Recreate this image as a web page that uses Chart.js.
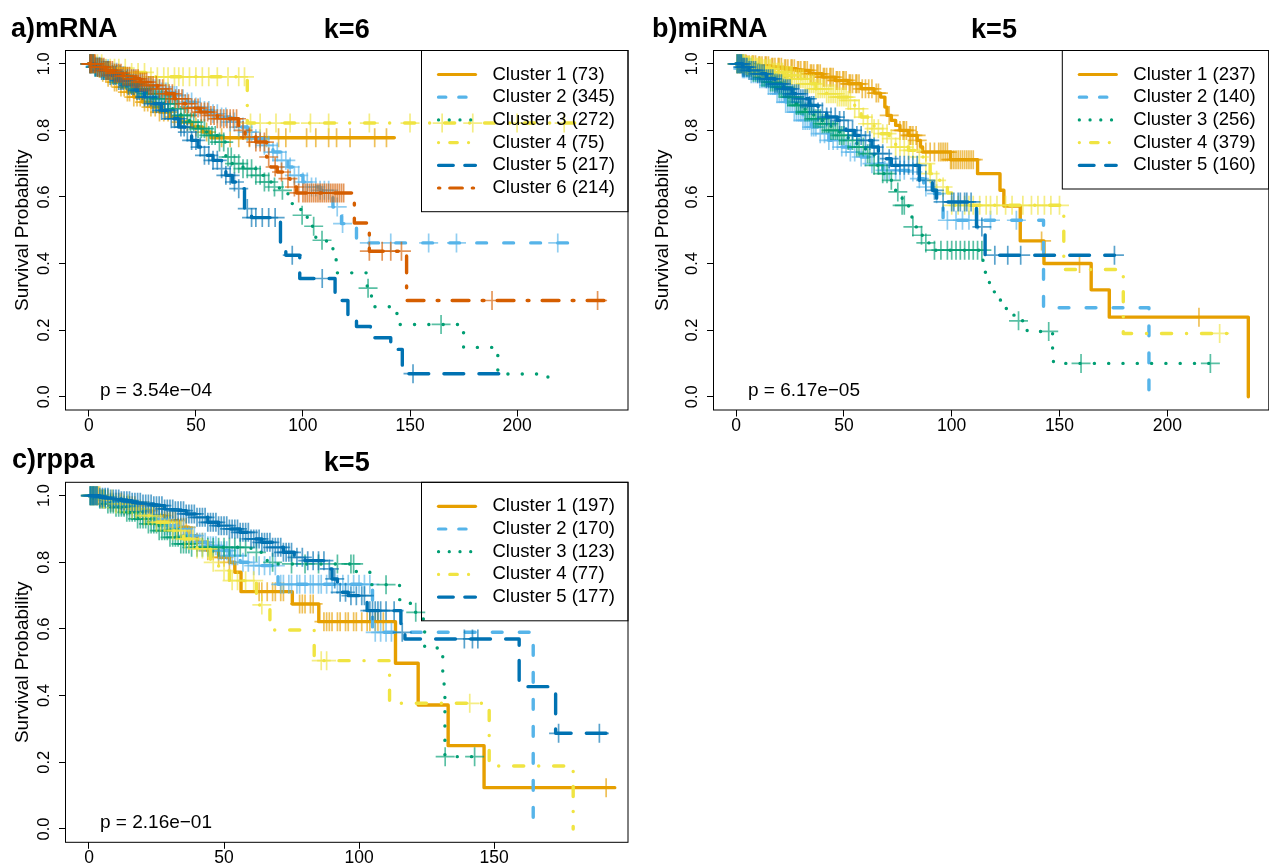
<!DOCTYPE html>
<html>
<head>
<meta charset="utf-8">
<script src="https://cdn.jsdelivr.net/npm/chart.js@4.4.1/dist/chart.umd.min.js"></script>
<style>
  body { margin: 0; background: #fff; overflow: hidden; width: 1269px; height: 863px; position: relative;
         font-family: "Liberation Sans", Arial, sans-serif; }
  canvas { position: absolute; }
  .title { position: absolute; font-weight: bold; font-size: 27px; line-height: 27px; white-space: nowrap; color: #000; }
  .centered { text-align: center; }
</style>
</head>
<body>
<canvas id="mrna" width="640" height="440" style="left:0;top:0"></canvas>
<canvas id="mirna" width="640" height="440" style="left:640px;top:0"></canvas>
<canvas id="rppa" width="640" height="433" style="left:0;top:430px"></canvas>

<div class="title" style="left:11px;top:14.5px">a)mRNA</div>
<div class="title centered" style="left:65.5px;width:562.5px;top:16px">k=6</div>
<div class="title" style="left:652px;top:14.5px">b)miRNA</div>
<div class="title centered" style="left:713.5px;width:561px;top:16px">k=5</div>
<div class="title" style="left:12px;top:446px">c)rppa</div>
<div class="title centered" style="left:65.5px;width:562.5px;top:448.5px">k=5</div>

<script>
"use strict";

// ---- a) mRNA, k=6 : [time, survival] after each drop; last pair = end of follow-up
const mrna1 = [[0,1],[3,0.99],[6,0.975],[9,0.96],[12,0.945],[15,0.93],[18,0.915],[21,0.9],[25,0.885],[29,0.87],[33,0.855],[38,0.84],[43,0.825],[48,0.81],[53,0.795],[57,0.778],[142.6,0.778]];
const mrna2 = [[0,1],[3,0.993],[6,0.985],[10,0.975],[14,0.965],[18,0.955],[22,0.945],[26,0.935],[30,0.925],[34,0.915],[38,0.905],[42,0.895],[46,0.885],[50,0.87],[54,0.86],[58,0.85],[62,0.84],[66,0.825],[70,0.81],[74,0.795],[78,0.775],[82,0.755],[86,0.735],[90,0.71],[93,0.69],[96,0.665],[100,0.645],[104,0.63],[108,0.62],[114,0.57],[118,0.52],[125,0.462],[224,0.462]];
const mrna3 = [[0,1],[3,0.99],[7,0.98],[11,0.968],[15,0.955],[19,0.94],[23,0.925],[27,0.91],[31,0.895],[35,0.88],[39,0.865],[43,0.845],[47,0.825],[51,0.805],[55,0.785],[60,0.765],[64,0.72],[67,0.7],[72,0.685],[78,0.665],[82,0.645],[86,0.63],[89,0.62],[93,0.58],[99,0.545],[102,0.512],[106,0.47],[111,0.445],[114,0.418],[115.5,0.372],[130,0.326],[132,0.27],[142,0.25],[144,0.217],[175,0.148],[191,0.068],[214.4,0.024]];
const mrna4 = [[0,1],[8,0.987],[18,0.974],[28,0.961],[74,0.822],[227,0.822]];
const mrna5 = [[0,1],[3,0.99],[6,0.98],[10,0.965],[14,0.95],[18,0.935],[22,0.92],[26,0.9],[30,0.88],[34,0.86],[38,0.835],[42,0.81],[45,0.795],[48,0.77],[51,0.75],[54,0.725],[58,0.71],[62,0.685],[64,0.665],[67,0.645],[70,0.625],[72.7,0.565],[76,0.538],[89.5,0.45],[92,0.425],[98.5,0.355],[115,0.289],[121,0.245],[125,0.211],[131.5,0.177],[141,0.142],[146.4,0.069],[191.7,0.035]];
const mrna6 = [[0,1],[4,0.99],[8,0.98],[12,0.972],[16,0.963],[20,0.955],[24,0.945],[28,0.935],[32,0.925],[36,0.91],[40,0.895],[44,0.88],[48,0.867],[52,0.855],[56,0.845],[60,0.835],[70,0.8],[73,0.78],[78,0.765],[83,0.72],[85,0.69],[88,0.675],[91,0.655],[94,0.63],[97,0.612],[124,0.522],[131,0.437],[148.4,0.289],[241.5,0.289]];
// censoring times (+ marks)
const mrna1Cens = [0.5,1.5,2.5,4,5,6.5,8,9,10.5,12,13,15,16.5,18,19,21,22.5,24,26,27.5,29,31,33,35,37,40,43,46,50,55,62,66,70,75,83,88.6,92,101.7,106,112,115.7,122,133.5,139];
const mrna2Cens = [0.5,1,1.5,2,3,3.5,4,5,6,6.5,7,8,9,10,11,12,13,14,15,16,17,18,19,20,21,22,23,24,25,26,27,28,29,30,31,32,33,34,35,36,37,38,39,40,41,42,44,46,48,50,52,54,56,58,60,62,64,66,68,70,72,74,76,78,80,82,84,86,88,90,92,94,96,98,100,102,104,106,108,110,112,116,118.5,131,141,158.7,171.7,219];
const mrna3Cens = [0.5,1,2,3,4,5,6,7,8.5,9.5,11,12,13,14.5,15.5,17,18,19.5,20.5,22,23,24.5,26,27,28.5,30,31,32.5,34,35.5,37,38,40,41.5,43,44.5,46,47.5,49,51,52.5,54,56,57.5,59,61,63,65,66.5,68,70,72,74,76,78,80,82,84,86.7,90.4,99.6,105,108.9,130.4,164.5];
const mrna4Cens = [1,2.5,4,6,8,10,12,14,17,20,23,26,29,32,35,37,40,42,44,47,50,53,56,60,65,70,72.7,75.5,80,87.4,94,103.5,112,131,150,165,179.3,200,222];
const mrna5Cens = [0.5,1,2,3,4,5,6,7,8,9,10,11.5,12.5,14,15,16,17.5,18.5,20,21,22.5,23.5,25,26,27.5,29,30,31.5,33,34,35.5,37,38.5,40,41.5,43,44.5,46,48,50,52,54,56,58,60,62,64,66,68,70,74,76,78,81,84,87,95,109,151.4];
const mrna6Cens = [0.5,1,1.5,2.5,3,4,5,6,7,8,9,10,11,12,13,14,15,16,17,18,19,20,21,22,23,24,25,26,27,28,29,30,31.5,33,34.5,36,37.5,39,40.5,42,43.5,45,46.5,48,49.5,51,52.5,54,55.5,57,58.5,60,61.5,63,64.5,66,67.5,69,72,75,78,80,82,84,87,90,93,96,98,100,101,102,103,104,105,106,107,108,109,110,111,112,113,114,115,116,117,118,119,131,137,141,146,188.3,237.6];
const mrnaLabels = ["Cluster 1 (73)", "Cluster 2 (345)", "Cluster 3 (272)", "Cluster 4 (75)", "Cluster 5 (217)", "Cluster 6 (214)"];
const mrnaP = "p = 3.54e\u221204";

// ---- b) miRNA, k=5
const mirna1 = [[0,1],[5,0.997],[10,0.994],[16,0.99],[22,0.985],[28,0.98],[34,0.97],[40,0.96],[46,0.95],[52,0.94],[58,0.925],[64,0.912],[67,0.9],[69,0.87],[70,0.845],[72,0.83],[74,0.815],[76,0.8],[80,0.785],[84,0.77],[85.5,0.75],[86.5,0.735],[99.4,0.712],[112,0.67],[122.4,0.62],[124.2,0.573],[131.8,0.468],[142.8,0.4],[164.7,0.321],[173.1,0.239],[237.6,0]];
const mirna2 = [[0,1],[3,0.985],[7,0.97],[11,0.955],[15,0.935],[19,0.91],[23,0.885],[27,0.855],[31,0.83],[35,0.81],[39,0.79],[43,0.77],[48,0.75],[53,0.735],[58,0.72],[63,0.7],[68,0.68],[80,0.675],[84,0.655],[87,0.63],[92,0.61],[96,0.53],[142.6,0.267],[191.5,0]];
const mirna3 = [[0,1],[4,0.99],[8,0.975],[12,0.96],[16,0.945],[20,0.93],[24,0.9],[28,0.875],[32,0.855],[36,0.835],[40,0.82],[44,0.8],[48,0.785],[52,0.77],[56,0.75],[60,0.73],[64,0.695],[68,0.67],[72,0.65],[74,0.615],[77,0.575],[80,0.54],[82,0.51],[84,0.485],[87,0.462],[92,0.44],[114.5,0.4],[115.5,0.374],[116.2,0.345],[117.5,0.315],[120,0.3],[122.6,0.285],[124.5,0.265],[127,0.245],[130,0.228],[133,0.21],[135,0.196],[146.8,0.145],[147.2,0.1],[223.4,0.1]];
const mirna4 = [[0,1],[4,0.995],[8,0.99],[12,0.985],[17,0.975],[22,0.965],[27,0.955],[32,0.94],[37,0.925],[42,0.91],[47,0.9],[52,0.89],[55,0.865],[58,0.84],[61,0.82],[64,0.805],[67,0.79],[71,0.775],[74,0.75],[80,0.74],[84.6,0.72],[87,0.7],[90,0.67],[93,0.65],[95.7,0.63],[98,0.612],[100,0.575],[152,0.382],[179.6,0.19],[228,0.19]];
const mirna5 = [[0,1],[3,0.99],[6,0.98],[10,0.97],[14,0.955],[18,0.94],[22,0.925],[26,0.91],[30,0.895],[34,0.875],[38,0.855],[42,0.84],[47,0.83],[51,0.8],[55,0.785],[60,0.77],[63,0.75],[66,0.73],[69,0.715],[72,0.695],[85,0.65],[91,0.62],[93,0.585],[111.5,0.51],[115.5,0.425],[175.5,0.425]];
const mirna1Cens = [0.5,1.5,2,3,4.5,5,6,7.5,8,9,10.5,11,12,13.5,14,15,16.5,17,18,19.5,20,21,22.5,23,24,25.5,26,27,28.5,29,30,31.5,32,33,34.5,35,36,37.5,38,39,40.5,41,42,43.5,44,45,46.5,47,48,49.5,50,51,52.5,53,54,55.5,56,57,58.5,60,61.5,63,65,66,71,76,77.5,78,79,80.5,81,82,83.5,84,88,90,92,94,95,96,97,98,99.5,100,101,102,103,104,105,106,107,108,109,110,141.7,159.3,214.7];
const mirna2Cens = [0.5,1,2,3,3.5,4,5,6,7,8,9,10,11,12,13,14,15,16,17,18,19,20,21,22,23,24,25,26,27,28,29,30,31,32,33,34,35,36,37,39,41,43,45,47,49,51,53,55,58,60,63,66,69,71,74,76,78,82,85,88,93,98,102,105,108,112,118,130];
const mirna3Cens = [0.5,1.5,2.5,3.5,5,6,7,8,9,10,11,12,13,14,15,16,17,18,19,20,21,22,23,24,25,26,27,28,29,30,31,32,33,34,35,36,37,38,39,40,41,42,43,44,45,46,47,48,49,50,52,54,56,57,59,61,62,64,66,68,70,72,75,77,78,82,86,88,92,95,98,100,102,104,106,108,110,112,114,131,145,160,220];
const mirna4Cens = [0.5,1,1.5,2,3,3.5,4,5,5.5,6,7,7.5,8,9,9.5,10,11,11.5,12,13,13.5,14,15,15.5,16,17,17.5,18,19,19.5,20,21,21.5,22,23,23.5,24,25,25.5,26,27,28,29,30,31,32,33,34,35,36,37,38,39,40,41,42,43,44,45,46,47,48,49,50,51,52,53,55,57,59,61,63,64,66,68,70,72,74,76,78,80,82,85,88,90,93,96,100,103,106,108,110,113,116,118,121,125,128,133,137,140,143,146,150,224.3];
const mirna5Cens = [0.5,1,1.5,2,2.5,3,3.5,4,5,6,7,8,9,10,11,12,13,14,15,16,17,18,19,20,21,22,23,24,25,26,27,28,29,30,31,32,33,34,35,36,38,40,42,44,46,48,50,52,54,56,58,60,62,64,66,68,71,74,76,78,80,82,84,88,92,96,100,101,103,104,106,107,109,114,120,126,132,175.5];
const mirnaLabels = ["Cluster 1 (237)", "Cluster 2 (140)", "Cluster 3 (256)", "Cluster 4 (379)", "Cluster 5 (160)"];
const mirnaP = "p = 6.17e\u221205";

// ---- c) rppa, k=5
const rppa1 = [[0,1],[4,0.99],[8,0.98],[13,0.97],[18,0.955],[23,0.94],[28,0.925],[33,0.905],[37,0.88],[40,0.86],[44,0.835],[48,0.815],[52,0.8],[54,0.77],[56.3,0.712],[75.3,0.675],[85.1,0.622],[113.5,0.497],[121.9,0.372],[133,0.25],[146.3,0.124],[194.7,0.124]];
const rppa2 = [[0,1],[4,0.99],[8,0.98],[12,0.97],[16,0.955],[20,0.94],[24,0.93],[28,0.91],[32,0.9],[36,0.88],[40,0.86],[44,0.85],[48,0.835],[52,0.82],[56,0.8],[60,0.79],[70,0.734],[105,0.59],[164.5,0]];
const rppa3 = [[0,1],[4,0.99],[7,0.975],[10,0.965],[14,0.95],[18,0.93],[22,0.915],[26,0.895],[30,0.875],[34,0.855],[38,0.845],[60,0.83],[66,0.8],[70,0.795],[99,0.77],[104,0.733],[115,0.688],[119,0.65],[123,0.63],[124.3,0.543],[131,0.468],[131.5,0.432],[131.8,0.217],[144.6,0.217]];
const rppa4 = [[0,1],[5,0.99],[10,0.975],[15,0.96],[20,0.94],[25,0.92],[30,0.895],[35,0.87],[40,0.84],[45,0.8],[48,0.775],[52,0.745],[62,0.672],[67,0.597],[83.4,0.505],[111.3,0.377],[148.2,0.189],[179.3,0]];
const rppa5 = [[0,1],[4,0.995],[8,0.99],[12,0.985],[16,0.98],[20,0.975],[24,0.97],[28,0.96],[32,0.955],[36,0.945],[40,0.935],[44,0.92],[48,0.91],[52,0.9],[56,0.89],[60,0.87],[64,0.86],[68,0.845],[72,0.83],[76,0.815],[80,0.805],[88,0.78],[90,0.75],[92,0.71],[96,0.7],[103,0.655],[115.5,0.59],[117,0.57],[159.3,0.427],[172.8,0.287],[192.3,0.287]];
const rppa1Cens = [0.5,1.5,2.5,3.5,4.5,5.5,7,8,9,10,11,12,13,14,15,16,17,18,19,20,21,22,23,24,25,26,27,28,29,30,31,32,33,34,35,36,38,40,42,44,46,48,50,52,63,64,66,68,69,71,72,78,79,80,82,83,87,88,89,90,92,93,95,96,98,99,101,103,104,106,107,109,191.5];
const rppa2Cens = [0.5,1,2,3,4,5,6,7,8,9,10,11,12,13,14,15,16,17,18,19,20,21,22,23,24,25,26,27,28,29,30,31,32,33,34,35,36,37,38,39,40,41,42,43,44,45,46,47,48,49,50,51,52,53,54,55,57,59,61,63,65,67,69,71,72,74,75,77,78,80,82,83,85,86,88,90,92,94,96,98,100,102,104,106,108,110,112];
const rppa3Cens = [0.5,1,1.5,2,3,4,5,6,7,8,9,10,11,12,13,14,15,16,17,18,19,20,21,22,23,24,25,26,27,28,29,30,31,32,33,34,35,36,37,38,40,42,44,46,48,50,52,54,56,58,62,68,75,80,85,92,97,98,110,121,131.9,142.8];
const rppa4Cens = [1,2,3,4,5.5,7,8.5,10,11.5,13,14.5,16,17.5,19,20.5,22,23.5,25,26.5,28,29.5,31,32.5,34,35.5,37,38.5,40,42,44,46,50,53,55,58,61,64,86,88,141];
const rppa5Cens = [0.5,1,1.5,2,2.5,3,4,5,6,7,8,9,10,11,12,13,14,15,16,17,18,19,20,21,22,23,24,25,26,27,28,29,30,31,32,33,34,35,36,37,38,39,40,41,42,43,44,45,46,47,48,49,50,51,52,53,54,55,56,57,58,59,60,61,62,63,64,65,66,67,68,69,70,71,72,73,74,75,77,79,81,83,85,87,89,91,93,95,97,99,101,102,104,105,106,107,108,110,113,116,139,142,144,173.9,189];
const rppaLabels = ["Cluster 1 (197)", "Cluster 2 (170)", "Cluster 3 (123)", "Cluster 4 (77)", "Cluster 5 (177)"];
const rppaP = "p = 2.16e\u221201";

const survTicks = [0, 0.2, 0.4, 0.6, 0.8, 1.0];
const timeTicks = [0, 50, 100, 150, 200];
const timeTicksShort = [0, 50, 100, 150];

// ---- styles (R lty 1..6, colour-blind palette)
const palette = ["#E69F00", "#56B4E9", "#009E73", "#F0E442", "#0072B2", "#D55E00"];
const dashes = [[], [9.8, 17.2], [0.1, 14.2], [0.1, 14.9, 10.1, 14.9], [19.8, 15.2], [1.8, 13.2, 16.8, 13.2]];
const FONT = '"Liberation Sans", Arial, sans-serif';

Chart.defaults.font.family = FONT;
Chart.defaults.color = "#000";

function fade(hex, alpha) {
    const n = parseInt(hex.slice(1), 16);
    return `rgba(${(n >> 16) & 255},${(n >> 8) & 255},${n & 255},${alpha})`;
}

// survival value of a step curve at time t (used to seat the censor marks)
function survivalAt(steps, t) {
    let s = steps[0][1];
    for (const [time, value] of steps) {
        if (time <= t) s = value;
        else break;
    }
    return s;
}

function buildDatasets(curves, censored) {
    const k = curves.length;
    const sets = [];
    curves.forEach((steps, i) => {
        sets.push({
            data: steps.map(([x, y]) => ({ x, y })),
            stepped: true,
            borderColor: palette[i],
            borderWidth: 3.4,
            borderDash: dashes[i],
            borderCapStyle: "round",
            borderJoinStyle: "round",
            pointRadius: 0,
            fill: false,
            order: k - i
        });
        sets.push({
            data: censored[i].map(t => ({ x: t, y: survivalAt(steps, t) })),
            showLine: false,
            pointStyle: "cross",
            pointRadius: 9.5,
            pointBorderWidth: 1.7,
            borderColor: fade(palette[i], 0.65),
            pointBorderColor: fade(palette[i], 0.65),
            order: k - i - 0.5
        });
    });
    return sets;
}

// box, p-value and legend drawn the way base R does it
const rDecor = {
    id: "rdecor",
    afterDatasetsDraw(chart, args, opts) {
        const { ctx, chartArea: area } = chart;
        ctx.save();
        ctx.fillStyle = "#000";
        ctx.font = "19px " + FONT;
        ctx.textBaseline = "alphabetic";
        ctx.fillText(opts.pText, area.left + 34.5, chart.scales.y.getPixelForValue(0) - 0.5);

        const n = opts.labels.length;
        const left = area.right - 206.5;
        const top = area.top;
        ctx.font = "18.5px " + FONT;
        ctx.strokeStyle = "#000";
        ctx.lineWidth = 1;
        ctx.strokeRect(left, top, area.right - left, 22.7 * n + 25);
        opts.labels.forEach((label, i) => {
            const y = top + 24 + i * 22.7;
            ctx.save();
            ctx.strokeStyle = palette[i];
            ctx.lineWidth = 3.2;
            ctx.lineCap = "round";
            ctx.setLineDash(dashes[i].map(d => d * 0.75));
            ctx.beginPath();
            ctx.moveTo(left + 17, y);
            ctx.lineTo(left + 54, y);
            ctx.stroke();
            ctx.restore();
            ctx.textBaseline = "middle";
            ctx.fillText(label, left + 71, y);
        });
        ctx.restore();
    },
    afterDraw(chart) {
        const { ctx, chartArea: area } = chart;
        ctx.save();
        ctx.strokeStyle = "#000";
        ctx.lineWidth = 1;
        ctx.strokeRect(area.left, area.top, area.right - area.left, area.bottom - area.top);
        ctx.restore();
    }
};

function createPanel(canvasId, config) {
    const { curves, censored, labels, pText, xMin, xMax, xTicks, area, height } = config;
    const ctx = document.getElementById(canvasId).getContext("2d");
    new Chart(ctx, {
        type: "line",
        data: { datasets: buildDatasets(curves, censored) },
        options: {
            responsive: false,
            animation: false,
            events: [],
            layout: { padding: { left: 0, top: area.top, right: 640 - area.right, bottom: 0 } },
            plugins: {
                legend: { display: false },
                tooltip: { enabled: false },
                rdecor: { labels, pText }
            },
            scales: {
                x: {
                    type: "linear",
                    min: xMin,
                    max: xMax,
                    afterBuildTicks: scale => { scale.ticks = xTicks.map(value => ({ value })); },
                    afterFit: scale => { scale.height = height - area.bottom; },
                    grid: { drawOnChartArea: false, drawTicks: true, tickLength: 6.5, color: "#000" },
                    border: { display: false },
                    ticks: { autoSkip: false, maxRotation: 0, padding: 0.5,
                             font: { size: 17.5, lineHeight: 1 }, callback: v => String(v) }
                },
                y: {
                    type: "linear",
                    min: -0.04,
                    max: 1.04,
                    afterBuildTicks: scale => { scale.ticks = survTicks.map(value => ({ value })); },
                    afterFit: scale => { scale.width = area.left; },
                    grid: { drawOnChartArea: false, drawTicks: true, tickLength: 6.5, color: "#000" },
                    border: { display: false },
                    ticks: { autoSkip: false, minRotation: 90, maxRotation: 90, crossAlign: "center",
                             padding: 3, font: { size: 16.5 }, callback: v => v.toFixed(1) },
                    title: { display: true, text: "Survival Probability", font: { size: 19 },
                             padding: { top: 11.5, bottom: 0 } }
                }
            }
        },
        plugins: [rDecor]
    });
}

createPanel("mrna", {
    curves: [mrna1, mrna2, mrna3, mrna4, mrna5, mrna6],
    censored: [mrna1Cens, mrna2Cens, mrna3Cens, mrna4Cens, mrna5Cens, mrna6Cens],
    labels: mrnaLabels, pText: mrnaP,
    xMin: -10.9, xMax: 251.8, xTicks: timeTicks,
    area: { left: 65.5, top: 50.5, right: 628, bottom: 410 }, height: 440
});

createPanel("mirna", {
    curves: [mirna1, mirna2, mirna3, mirna4, mirna5],
    censored: [mirna1Cens, mirna2Cens, mirna3Cens, mirna4Cens, mirna5Cens],
    labels: mirnaLabels, pText: mirnaP,
    xMin: -10.5, xMax: 247.1, xTicks: timeTicks,
    area: { left: 73.5, top: 50.5, right: 634.6, bottom: 410 }, height: 440
});

createPanel("rppa", {
    curves: [rppa1, rppa2, rppa3, rppa4, rppa5],
    censored: [rppa1Cens, rppa2Cens, rppa3Cens, rppa4Cens, rppa5Cens],
    labels: rppaLabels, pText: rppaP,
    xMin: -8.7, xMax: 199.6, xTicks: timeTicksShort,
    area: { left: 65.5, top: 52.3, right: 628, bottom: 412.3 }, height: 433
});
</script>
</body>
</html>
